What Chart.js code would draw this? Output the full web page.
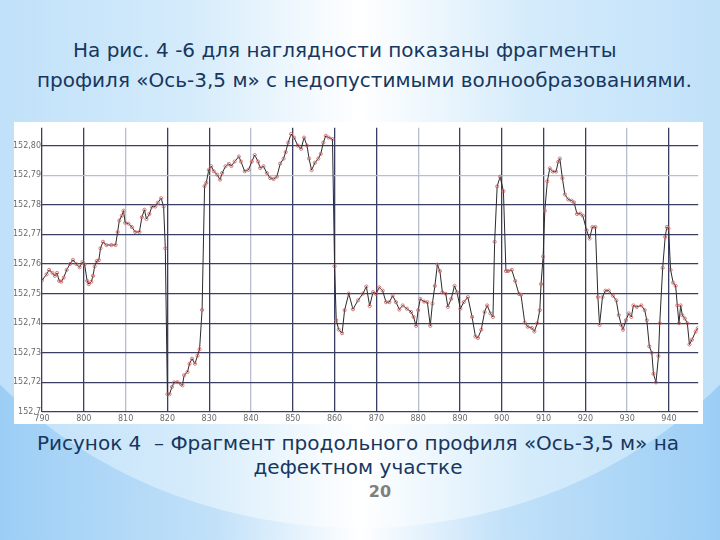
<!DOCTYPE html>
<html lang="ru">
<head>
<meta charset="UTF-8">
<title>Ось-3,5 м</title>
<script src="https://cdn.jsdelivr.net/npm/chart.js@4.4.2/dist/chart.umd.min.js"></script>
<style>
    html, body {
        margin: 0;
        padding: 0;
    }
    body {
        width: 720px;
        height: 540px;
        overflow: hidden;
        position: relative;
        font-family: "DejaVu Sans", sans-serif;
        background: linear-gradient(to right, #9ccef5 0%, #c2e1f9 30%, #ffffff 50%, #c2e1f9 70%, #9ccef5 100%);
    }
    /* lighter big ellipse of the slide background */
    .glow {
        position: absolute;
        left: -120px;
        top: -320px;
        width: 960px;
        height: 848px;
        border-radius: 50%;
        background: linear-gradient(to right, #b3daf8 0%, #d4ebfb 32%, #ffffff 50%, #d4ebfb 68%, #b3daf8 100%);
    }
    .txt {
        position: absolute;
        color: #17375e;
        font-size: 20px;
        line-height: 24px;
        white-space: nowrap;
    }
    .center {
        left: 0;
        width: 716px;
        text-align: center;
    }
    .page {
        position: absolute;
        left: 0;
        width: 760px;
        top: 482px;
        text-align: center;
        font-weight: bold;
        font-size: 16px;
        color: #7f7f7f;
    }
    #chartBox {
        position: absolute;
        left: 14px;
        top: 122px;
        width: 689px;
        height: 302px;
        background: #fff;
    }
</style>
</head>
<body>
<div class="glow"></div>

<div class="txt" style="left:73px; top:38px;">На рис. 4 -6 для наглядности показаны фрагменты</div>
<div class="txt" style="left:37px; top:68px;">профиля «Ось-3,5 м» с недопустимыми волнообразованиями.</div>

<div id="chartBox"><canvas id="profile" width="689" height="302"></canvas></div>

<div class="txt center" style="top:431px;">Рисунок 4&nbsp; – Фрагмент продольного профиля «Ось-3,5 м» на</div>
<div class="txt center" style="top:455px;">дефектном участке</div>
<div class="page">20</div>

<script>
    // --- Data (distance, m / elevation, m) ---
    const dist = [
        790.0, 791.1, 791.7, 792.5, 793.1, 793.6, 794.1, 794.6, 795.2, 795.9,
        796.7, 797.4, 798.2, 799.0, 799.7, 800.2, 800.8, 801.2, 801.8, 802.2,
        802.6, 803.1, 803.6, 804.0, 804.6, 805.4, 806.6, 807.6, 808.1, 808.5,
        809.1, 809.5, 809.9, 810.7, 811.5, 812.3, 813.3, 813.9, 814.5, 815.0,
        815.7, 816.3, 817.1, 817.7, 818.5, 819.1, 819.5, 820.0, 820.5, 821.1,
        821.6, 822.4, 823.2, 823.6, 824.0, 824.8, 825.3, 825.9, 826.6, 827.2,
        827.7, 828.3, 828.9, 829.3, 829.9, 830.5, 831.1, 831.9, 832.6, 833.1,
        833.9, 834.7, 835.3, 836.1, 837.1, 837.6, 838.5, 839.4, 840.2, 840.9,
        841.7, 842.2, 843.0, 843.8, 844.6, 845.4, 846.2, 847.0, 847.8, 848.3,
        848.9, 849.6, 850.3, 851.2, 852.0, 852.7, 853.4, 853.9, 854.5, 855.3,
        856.1, 856.7, 857.3, 857.9, 858.6, 859.5, 860.0, 860.4, 861.0, 861.8,
        862.4, 863.4, 864.4, 865.6, 866.8, 867.6, 868.4, 869.2, 869.9, 870.7,
        871.5, 872.3, 873.1, 873.9, 874.7, 875.5, 876.3, 877.3, 878.3, 878.9,
        879.5, 880.0, 880.5, 881.4, 882.2, 882.9, 883.4, 884.0, 884.6, 885.2,
        885.8, 886.6, 887.1, 887.9, 888.7, 889.3, 890.1, 890.9, 891.9, 892.9,
        893.7, 894.3, 895.1, 895.9, 896.5, 897.3, 897.9, 898.3, 898.9, 899.6,
        900.4, 901.0, 901.5, 902.4, 903.2, 904.1, 904.6, 905.5, 906.2, 907.2,
        907.8, 908.5, 909.1, 909.4, 909.9, 910.3, 910.9, 911.5, 912.2, 913.0,
        913.5, 913.9, 914.5, 915.1, 915.9, 916.7, 917.3, 918.0, 918.8, 919.4,
        920.3, 921.0, 921.7, 922.4, 923.0, 923.4, 924.1, 924.8, 925.6, 926.6,
        927.4, 928.0, 928.6, 929.0, 929.7, 930.4, 931.0, 931.5, 932.3, 933.4,
        934.2, 934.7, 935.3, 935.9, 936.3, 936.9, 937.5, 937.8, 938.5, 939.1,
        939.5, 939.9, 940.4, 941.0, 941.6, 942.0, 942.4, 942.8, 943.2, 943.8,
        944.4, 944.9, 945.5, 946.4, 946.9
    ];
    const elev = [
        152.7545, 152.7565, 152.7580, 152.7570, 152.7560, 152.7570, 152.7543, 152.7540, 152.7554, 152.7580,
        152.7600, 152.7614, 152.7600, 152.7589, 152.7607, 152.7598, 152.7543, 152.7532, 152.7540, 152.7560,
        152.7592, 152.7610, 152.7613, 152.7653, 152.7675, 152.7664, 152.7664, 152.7664, 152.7708, 152.7747,
        152.7763, 152.7780, 152.7739, 152.7736, 152.7725, 152.7708, 152.7708, 152.7758, 152.7783, 152.7752,
        152.7769, 152.7794, 152.7794, 152.7807, 152.7822, 152.7794, 152.7653, 152.7160, 152.7160, 152.7185,
        152.7200, 152.7201, 152.7195, 152.7190, 152.7224, 152.7235, 152.7263, 152.7280, 152.7263, 152.7290,
        152.7312, 152.7445, 152.7863, 152.7874, 152.7918, 152.7930, 152.7913, 152.7902, 152.7885, 152.7907,
        152.7930, 152.7938, 152.7931, 152.7946, 152.7963, 152.7946, 152.7913, 152.7918, 152.7946, 152.7968,
        152.7946, 152.7924, 152.7930, 152.7907, 152.7890, 152.7887, 152.7895, 152.7939, 152.7956, 152.7978,
        152.8010, 152.8039, 152.8027, 152.8000, 152.7989, 152.8027, 152.8000, 152.7956, 152.7917, 152.7942,
        152.7956, 152.7972, 152.8010, 152.8033, 152.8027, 152.8022, 152.7592, 152.7410, 152.7378, 152.7366,
        152.7444, 152.7500, 152.7447, 152.7477, 152.7500, 152.7524, 152.7458, 152.7505, 152.7499, 152.7521,
        152.7510, 152.7471, 152.7471, 152.7493, 152.7471, 152.7446, 152.7460, 152.7449, 152.7438, 152.7421,
        152.7391, 152.7444, 152.7482, 152.7473, 152.7471, 152.7391, 152.7466, 152.7526, 152.7598, 152.7576,
        152.7504, 152.7499, 152.7455, 152.7482, 152.7526, 152.7504, 152.7449, 152.7471, 152.7488, 152.7421,
        152.7355, 152.7350, 152.7378, 152.7438, 152.7460, 152.7433, 152.7421, 152.7675, 152.7862, 152.7895,
        152.7846, 152.7576, 152.7576, 152.7580, 152.7543, 152.7499, 152.7496, 152.7402, 152.7388, 152.7384,
        152.7372, 152.7400, 152.7444, 152.7532, 152.7625, 152.7780, 152.7879, 152.7923, 152.7912, 152.7912,
        152.7945, 152.7956, 152.7890, 152.7835, 152.7818, 152.7814, 152.7808, 152.7769, 152.7770, 152.7763,
        152.7714, 152.7686, 152.7725, 152.7725, 152.7488, 152.7394, 152.7488, 152.7510, 152.7510, 152.7493,
        152.7477, 152.7427, 152.7394, 152.7378, 152.7410, 152.7433, 152.7421, 152.7460, 152.7455, 152.7460,
        152.7444, 152.7410, 152.7322, 152.7300, 152.7229, 152.7200, 152.7289, 152.7400, 152.7587, 152.7691,
        152.7725, 152.7720, 152.7580, 152.7537, 152.7526, 152.7460, 152.7400, 152.7460, 152.7427, 152.7416,
        152.7400, 152.7328, 152.7344, 152.7372, 152.7383
    ];

    // axis ticks and their labels
    const xTicks = [790, 800, 810, 820, 830, 840, 850, 860, 870, 880, 890, 900, 910, 920, 930, 940];
    const yTicks = [152.71, 152.72, 152.73, 152.74, 152.75, 152.76, 152.77, 152.78, 152.79, 152.80];
    const yTickLabels = ['152,7', '152,72', '152,73', '152,74', '152,75', '152,76', '152,77', '152,78', '152,79', '152,80'];
    // grid lines that look faint in the scan
    const xFaint = [810, 840, 880, 930];
    const yFaint = [152.79];

    const points = dist.map((d, i) => ({ x: d, y: elev[i] }));

    function gridColor(value, faint) {
        const isFaint = faint.some(f => Math.abs(f - value) < 1e-6);
        return isFaint ? '#b9bdd0' : '#3a3e63';
    }

    new Chart(document.getElementById('profile'), {
        type: 'line',
        data: {
            datasets: [{
                data: points,
                borderColor: '#2b2b2b',
                borderWidth: 1,
                pointRadius: 1.6,
                pointBorderWidth: 0.8,
                pointBorderColor: '#cc6060',
                pointBackgroundColor: 'rgba(255,255,255,0)',
                tension: 0
            }]
        },
        options: {
            responsive: false,
            animation: false,
            layout: { padding: 0 },
            plugins: {
                legend: { display: false },
                tooltip: { enabled: false }
            },
            scales: {
                x: {
                    type: 'linear',
                    min: 790,
                    max: 947,
                    afterBuildTicks: axis => { axis.ticks = xTicks.map(v => ({ value: v })); },
                    afterFit: axis => { axis.height = 12; },
                    border: { display: false },
                    grid: {
                        drawTicks: false,
                        lineWidth: 1.3,
                        color: c => gridColor(c.tick ? c.tick.value : 0, xFaint)
                    },
                    ticks: {
                        autoSkip: false,
                        maxRotation: 0,
                        padding: 2,
                        color: '#6a6a6a',
                        font: { family: 'DejaVu Sans', size: 8 },
                        callback: v => String(v)
                    }
                },
                y: {
                    min: 152.71,
                    max: 152.806,
                    afterBuildTicks: axis => { axis.ticks = yTicks.map(v => ({ value: v })); },
                    afterFit: axis => { axis.width = 28; },
                    border: { display: false },
                    grid: {
                        drawTicks: false,
                        lineWidth: 1.3,
                        color: c => gridColor(c.tick ? c.tick.value : 0, yFaint)
                    },
                    ticks: {
                        padding: 1,
                        color: '#6a6a6a',
                        font: { family: 'DejaVu Sans', size: 8 },
                        callback: (v, i) => yTickLabels[i]
                    }
                }
            }
        }
    });
</script>
</body>
</html>
